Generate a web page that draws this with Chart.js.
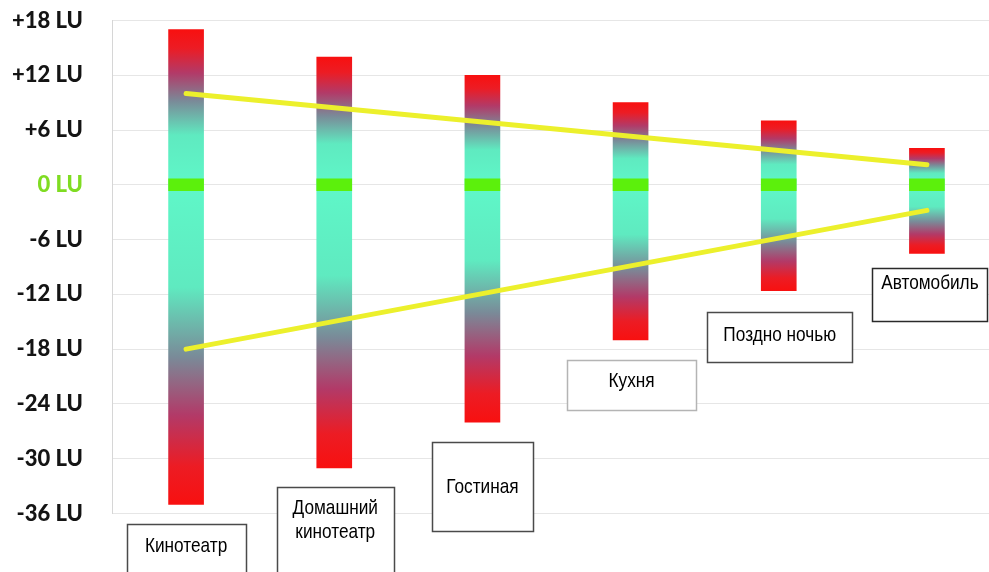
<!DOCTYPE html>
<html lang="ru">
<head>
<meta charset="utf-8">
<title>Диапазон громкости по условиям прослушивания</title>
<script src="https://cdn.jsdelivr.net/npm/chart.js@4/dist/chart.umd.min.js"></script>
<style>
  html, body { margin: 0; padding: 0; background: #ffffff; overflow: hidden; }
  #wrap { width: 1001px; height: 572px; }
</style>
</head>
<body>
<div id="wrap"><canvas id="chart" width="1001" height="572"></canvas></div>
<script>
// Listening environments
const categories = [
  ['Кинотеатр'],
  ['Домашний', 'кинотеатр'],
  ['Гостиная'],
  ['Кухня'],
  ['Поздно ночью'],
  ['Автомобиль']
];

// Loudness range per environment, LU relative to the reference level
const upperLimit = [17, 14, 12, 9, 7, 4];
const lowerLimit = [-35, -31, -26, -17, -11.6, -7.5];

// Reference (0 LU) level marked on each bar
const referenceLevel = [0, 0, 0, 0, 0, 0];

// Trend lines across the environments (only the end points are defined)
const upperTrend = [10, null, null, null, null, 2.2];
const lowerTrend = [-18, null, null, null, null, -2.8];

// Y axis tick labels
const tickValues = [18, 12, 6, 0, -6, -12, -18, -24, -30, -36];
const tickLabels = ['+18 LU', '+12 LU', '+6 LU', '0 LU', '-6 LU', '-12 LU', '-18 LU', '-24 LU', '-30 LU', '-36 LU'];

// ---- styling ----
const BAR_PX = 35;
const REF_HALF = 0.65;           // half-height of the reference marker, LU
const TREND_COLOR = '#ecf02c';
const REF_COLOR = '#5cf00c';
const GRADIENT_STOPS = [
  [0.00, '#5ff7c8'],
  [0.32, '#5feac0'],
  [0.54, '#7a8a98'],
  [0.72, '#b23a68'],
  [0.88, '#ec1c24'],
  [1.00, '#f81010']
];

// Caption boxes under each bar (pixel layout)
const captionBoxes = [
  { dx: 0, w: 119, top: 524, h: 62, textTop: 22, border: '#4a4a4a' },
  { dx: 1, w: 117, top: 487, h: 95, textTop: 21, border: '#4a4a4a' },
  { dx: 0, w: 101, top: 442, h: 89, textTop: 45, border: '#4a4a4a' },
  { dx: 1, w: 129, top: 360, h: 50, textTop: 21, border: '#b4b4b4' },
  { dx: 1, w: 145, top: 312, h: 50, textTop: 23, border: '#4a4a4a' },
  { dx: 3, w: 115, top: 268, h: 53, textTop: 15, border: '#2a2a2a' }
];

function barGradient(ctx, toValue) {
  const chart = ctx.chart;
  if (!chart.chartArea) return '#5ff7c8';
  const y = chart.scales.y;
  const y0 = y.getPixelForValue(0);
  const y1 = y.getPixelForValue(toValue);
  const g = chart.ctx.createLinearGradient(0, y0, 0, y1);
  GRADIENT_STOPS.forEach(([p, c]) => g.addColorStop(p, c));
  return g;
}

const captionPlugin = {
  id: 'captions',
  afterDraw(chart) {
    const ctx = chart.ctx;
    const x = chart.scales.x;
    ctx.save();
    categories.forEach((lines, i) => {
      const b = captionBoxes[i];
      const cx = x.getPixelForValue(i) + b.dx;
      const left = Math.round(cx - b.w / 2) + 0.5;
      ctx.fillStyle = '#ffffff';
      ctx.fillRect(left, b.top + 0.5, b.w, b.h);
      ctx.strokeStyle = b.border;
      ctx.lineWidth = 1.5;
      ctx.strokeRect(left, b.top + 0.5, b.w, b.h);
      ctx.fillStyle = '#000000';
      ctx.font = '21px "Liberation Sans", Arial, sans-serif';
      ctx.textAlign = 'center';
      ctx.textBaseline = 'middle';
      lines.forEach((t, k) => {
        ctx.save();
        ctx.translate(cx, b.top + b.textTop + k * 24);
        ctx.scale(0.82, 1);
        ctx.fillText(t, 0, 0);
        ctx.restore();
      });
    });
    ctx.restore();
  }
};

new Chart(document.getElementById('chart'), {
  type: 'bar',
  data: {
    labels: categories,
    datasets: [
      {
        type: 'line',
        data: upperTrend,
        borderColor: TREND_COLOR,
        borderWidth: 5,
        borderCapStyle: 'round',
        pointRadius: 0,
        spanGaps: true,
        order: 0
      },
      {
        type: 'line',
        data: lowerTrend,
        borderColor: TREND_COLOR,
        borderWidth: 5,
        borderCapStyle: 'round',
        pointRadius: 0,
        spanGaps: true,
        order: 0
      },
      {
        data: referenceLevel.map(v => [v - REF_HALF, v + REF_HALF]),
        backgroundColor: REF_COLOR,
        barThickness: BAR_PX,
        grouped: false,
        order: 1
      },
      {
        data: upperLimit.map(v => [0, v]),
        backgroundColor: ctx => barGradient(ctx, upperLimit[ctx.dataIndex]),
        barThickness: BAR_PX,
        grouped: false,
        order: 2
      },
      {
        data: lowerLimit.map(v => [v, 0]),
        backgroundColor: ctx => barGradient(ctx, lowerLimit[ctx.dataIndex]),
        barThickness: BAR_PX,
        grouped: false,
        order: 2
      }
    ]
  },
  options: {
    responsive: false,
    animation: false,
    devicePixelRatio: 1,
    layout: { padding: { top: 20.5, bottom: 58.5, left: 0, right: 0 } },
    plugins: {
      legend: { display: false },
      tooltip: { enabled: false }
    },
    scales: {
      x: {
        display: false,
        offset: true
      },
      y: {
        min: -36,
        max: 18,
        afterFit(scale) { scale.width = 112; },
        afterBuildTicks(scale) { scale.ticks = tickValues.map(v => ({ value: v })); },
        grid: {
          color: '#e6e6e6',
          lineWidth: 1,
          drawTicks: true,
          tickLength: 29,
          tickColor: 'rgba(0,0,0,0)'
        },
        border: { display: true, color: '#d6d6d6', width: 1 },
        ticks: {
          padding: 0,
          color: ctx => (ctx.tick && ctx.tick.value === 0 ? '#7fdc22' : '#141414'),
          font: { family: 'Lato, "Open Sans", sans-serif', size: 22, weight: 900 },
          callback: v => tickLabels[tickValues.indexOf(v)]
        }
      }
    }
  },
  plugins: [captionPlugin]
});
</script>
</body>
</html>
